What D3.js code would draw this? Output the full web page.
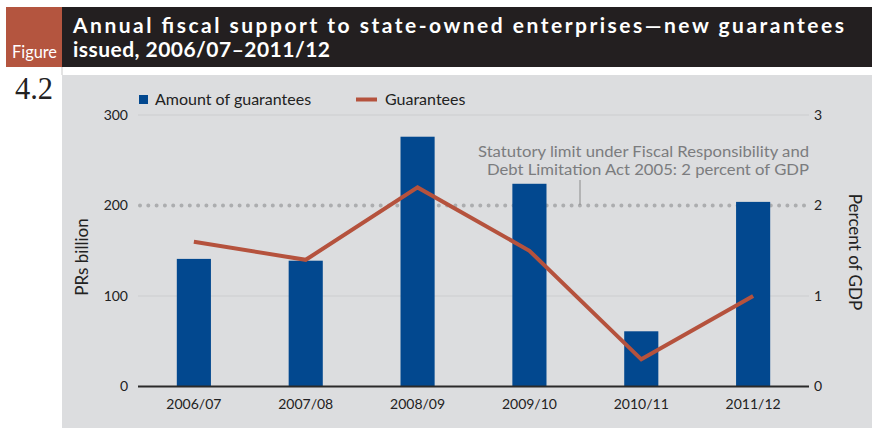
<!DOCTYPE html>
<html>
<head>
<meta charset="utf-8">
<script src="https://cdn.jsdelivr.net/npm/d3@7"></script>
<style>
  html, body { margin: 0; padding: 0; background: #ffffff; }
  svg { display: block; }
</style>
</head>
<body>
<svg id="chart" width="872" height="428" font-family="Lato, 'Open Sans', sans-serif"></svg>
<script>
// Fiscal years on the category axis
const years = ["2006/07", "2007/08", "2008/09", "2009/10", "2010/11", "2011/12"];
// New guarantees issued, PRs billion (bars, left axis)
const amounts = [141, 139, 276, 224, 61, 204];
// New guarantees issued, percent of GDP (line, right axis)
const pctGDP = [1.6, 1.4, 2.2, 1.5, 0.3, 1.0];
// Axis ticks
const leftTicks = [0, 100, 200, 300];
const rightTicks = [0, 1, 2, 3];
// Statutory limit (percent of GDP)
const statutoryLimit = 2;

const titleLines = [
  "Annual fiscal support to state-owned enterprises\u2014new guarantees",
  "issued, 2006/07\u20132011/12"
];

const svg = d3.select("#chart");

// Header band
svg.append("rect").attr("x", 6).attr("y", 7).attr("width", 56).attr("height", 60).attr("fill", "#b4553f");
svg.append("rect").attr("x", 62).attr("y", 7).attr("width", 810).attr("height", 60).attr("fill", "#231f20");
svg.append("text").attr("x", 12).attr("y", 58).attr("fill", "#ffffff")
  .attr("font-size", 17).attr("textLength", 45).attr("lengthAdjust", "spacingAndGlyphs")
  .text("Figure");
svg.selectAll(".title").data(titleLines).join("text")
  .attr("class", "title")
  .attr("x", 73).attr("y", (d, i) => 33 + i * 24)
  .attr("fill", "#ffffff").attr("font-size", 21).attr("font-weight", "bold")
  .attr("textLength", (d, i) => i === 0 ? 771 : 257).attr("lengthAdjust", "spacing")
  .text(d => d);

// Panel
svg.append("rect").attr("x", 62).attr("y", 75).attr("width", 810).attr("height", 353).attr("fill", "#dcdddf");
svg.append("line").attr("x1", 62).attr("x2", 62).attr("y1", 67).attr("y2", 75).attr("stroke", "#c8c8c8");
svg.append("text").attr("x", 15).attr("y", 99).attr("fill", "#222")
  .attr("font-family", "'Liberation Serif', 'DejaVu Serif', serif")
  .attr("font-size", 32).attr("textLength", 38).attr("lengthAdjust", "spacingAndGlyphs")
  .text("4.2");

// Scales
const x0 = 138, x1 = 809, yBottom = 386.5, yTop = 115;
const x = d3.scaleBand().domain(years).range([x0, x1]).paddingInner(0.695).paddingOuter(0.347);
const yL = d3.scaleLinear().domain([0, 300]).range([yBottom, yTop]);
const yR = d3.scaleLinear().domain([0, 3]).range([yBottom, yTop]);

// Gridlines
svg.append("g").selectAll("line").data(leftTicks.filter(t => t !== 0 && t !== 200)).join("line")
  .attr("x1", x0).attr("x2", x1).attr("y1", d => yL(d)).attr("y2", d => yL(d))
  .attr("stroke", "#cccdcf").attr("stroke-width", 1.2);

// Statutory limit (dotted)
svg.append("line")
  .attr("x1", x0 + 2).attr("x2", x1).attr("y1", yR(statutoryLimit)).attr("y2", yR(statutoryLimit))
  .attr("stroke", "#acadaf").attr("stroke-width", 4).attr("stroke-linecap", "round")
  .attr("stroke-dasharray", "0 8.3");

// Bars
svg.append("g").selectAll("rect").data(years).join("rect")
  .attr("x", d => x(d)).attr("width", x.bandwidth())
  .attr("y", (d, i) => yL(amounts[i])).attr("height", (d, i) => yBottom - yL(amounts[i]))
  .attr("fill", "#02488f");

// Annotation leader and text
svg.append("line").attr("x1", 580).attr("x2", 580).attr("y1", 180).attr("y2", 205)
  .attr("stroke", "#8a8a8a").attr("stroke-width", 1);
const noteLines = [
  "Statutory limit under Fiscal Responsibility and",
  "Debt Limitation Act 2005: 2 percent of GDP"
];
svg.selectAll(".note").data(noteLines).join("text")
  .attr("class", "note")
  .attr("x", 809).attr("y", (d, i) => 157 + i * 18)
  .attr("text-anchor", "end").attr("fill", "#7b7c7e").attr("font-size", 15.5)
  .attr("textLength", (d, i) => i === 0 ? 331 : 322).attr("lengthAdjust", "spacingAndGlyphs")
  .text(d => d);

// Line series
const line = d3.line()
  .x((d, i) => x(years[i]) + x.bandwidth() / 2)
  .y(d => yR(d));
svg.append("path").datum(pctGDP)
  .attr("d", line).attr("fill", "none")
  .attr("stroke", "#b5523d").attr("stroke-width", 4).attr("stroke-linejoin", "miter");

// Baseline
svg.append("line").attr("x1", x0).attr("x2", x1).attr("y1", yBottom).attr("y2", yBottom)
  .attr("stroke", "#2a2a2a").attr("stroke-width", 2);

// Axes (labels only)
const leftAxis = d3.axisLeft(yL).tickValues(leftTicks).tickSize(0).tickPadding(10).tickFormat(d3.format("d"));
const gL = svg.append("g").attr("transform", `translate(${x0},0)`).call(leftAxis);
gL.select(".domain").remove();
gL.selectAll("text").attr("font-size", 14).attr("fill", "#222").attr("font-family", "Lato, sans-serif");

const rightAxis = d3.axisRight(yR).tickValues(rightTicks).tickSize(0).tickPadding(5).tickFormat(d3.format("d"));
const gR = svg.append("g").attr("transform", `translate(${x1},0)`).call(rightAxis);
gR.select(".domain").remove();
gR.selectAll("text").attr("font-size", 14).attr("fill", "#222").attr("font-family", "Lato, sans-serif");

const bottomAxis = d3.axisBottom(x).tickSize(0).tickPadding(13);
const gB = svg.append("g").attr("transform", `translate(0,${yBottom})`).call(bottomAxis);
gB.select(".domain").remove();
gB.selectAll("text").attr("font-size", 14).attr("fill", "#222").attr("font-family", "Lato, sans-serif");

// Axis titles
svg.append("text").attr("transform", "translate(88,257) rotate(-90)")
  .attr("text-anchor", "middle").attr("font-size", 17).attr("fill", "#222").text("PRs billion");
svg.append("text").attr("transform", "translate(849,252) rotate(90)")
  .attr("text-anchor", "middle").attr("font-size", 17).attr("fill", "#222").text("Percent of GDP");

// Legend
svg.append("rect").attr("x", 139).attr("y", 95).attr("width", 9).attr("height", 9).attr("fill", "#02488f");
svg.append("text").attr("x", 155).attr("y", 104.5).attr("font-size", 16).attr("fill", "#222").text("Amount of guarantees");
svg.append("line").attr("x1", 356).attr("x2", 377).attr("y1", 99.5).attr("y2", 99.5)
  .attr("stroke", "#b5523d").attr("stroke-width", 4);
svg.append("text").attr("x", 385).attr("y", 104.5).attr("font-size", 16).attr("fill", "#222").text("Guarantees");
</script>
</body>
</html>
